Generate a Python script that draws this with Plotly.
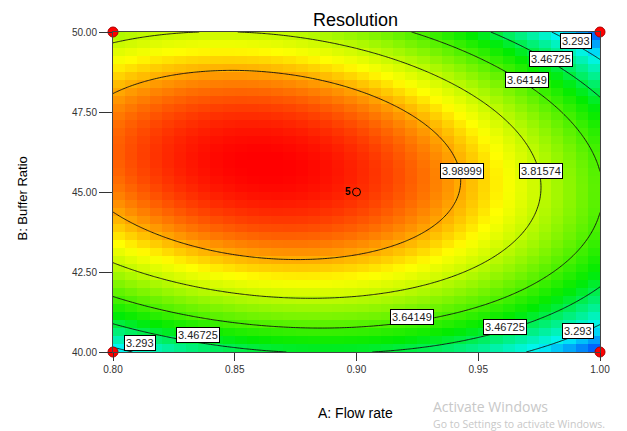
import numpy as np
import plotly.graph_objects as go

# ---- data ----
title = "Resolution"
x_title = "A: Flow rate"
y_title = "B: Buffer Ratio"
x_ticks = [0.80, 0.85, 0.90, 0.95, 1.00]
y_ticks = [40.00, 42.50, 45.00, 47.50, 50.00]
x_range = [0.80, 1.00]
y_range = [40.0, 50.0]

# fitted quadratic model in coded units (a: flow rate, b: buffer ratio)
coef_names = ["c0", "A", "B", "AB", "A2", "B2"]
coef_vals = [4.12, -0.19, 0.1275, -0.1275, -0.28, -0.52]

# contour levels shown
levels = [3.293, 3.46725, 3.64149, 3.81574, 3.98999]
z_min, z_max = 3.11875, 4.16424

# contour label positions (A, B, level)
label_A = [0.990, 0.980, 0.970, 0.9758, 0.9433, 0.9228, 0.961, 0.991, 0.835, 0.811]
label_B = [49.72, 49.16, 48.50, 45.66, 45.66, 41.09, 40.78, 40.66, 40.53, 40.28]
label_txt = ["3.293", "3.46725", "3.64149", "3.81574", "3.98999",
             "3.64149", "3.46725", "3.293", "3.46725", "3.293"]

# design points
design_A = [0.80, 0.80, 1.00, 1.00]
design_B = [40.0, 50.0, 40.0, 50.0]
center_A = [0.90]
center_B = [45.0]
center_reps = ["<b>5</b>"]

# ---- model evaluation ----
c = dict(zip(coef_names, coef_vals))

def model(A, B):
    a = (A - 0.9) / 0.1
    b = (B - 45.0) / 5.0
    return (c["c0"] + c["A"] * a + c["B"] * b + c["AB"] * a * b
            + c["A2"] * a * a + c["B2"] * b * b)

ncell = 40
xc = x_range[0] + (np.arange(ncell) + 0.5) * (x_range[1] - x_range[0]) / ncell
yc = y_range[0] + (np.arange(ncell) + 0.5) * (y_range[1] - y_range[0]) / ncell
XC, YC = np.meshgrid(xc, yc)
Zc = model(XC, YC)

xf = np.linspace(x_range[0], x_range[1], 201)
yf = np.linspace(y_range[0], y_range[1], 201)
XF, YF = np.meshgrid(xf, yf)
Zf = model(XF, YF)

colorscale = [[0.0, "rgb(0,40,255)"], [0.17, "rgb(0,245,245)"], [0.4, "rgb(0,235,0)"],
              [0.75, "rgb(255,255,0)"], [1.0, "rgb(255,0,0)"]]

fig = go.Figure()
fig.add_trace(go.Heatmap(x=xc, y=yc, z=Zc, colorscale=colorscale, zmin=z_min, zmax=z_max,
                         showscale=False, zsmooth=False, hoverinfo="skip"))
step = (levels[-1] - levels[0]) / (len(levels) - 1)
fig.add_trace(go.Contour(x=xf, y=yf, z=Zf, showscale=False,
                         contours=dict(start=levels[0], end=levels[-1] + 1e-6, size=step,
                                       coloring="none"),
                         line=dict(color="#111", width=0.9), hoverinfo="skip"))

fig.add_trace(go.Scatter(x=design_A, y=design_B, mode="markers", cliponaxis=False,
                         marker=dict(color="red", size=10, line=dict(color="#aa0000", width=1)),
                         hoverinfo="skip"))
fig.add_trace(go.Scatter(x=center_A, y=center_B, mode="markers+text", text=center_reps,
                         textposition="middle left", cliponaxis=False,
                         textfont=dict(family="Liberation Sans", size=10, color="black"),
                         marker=dict(symbol="circle-open", color="black", size=8,
                                     line=dict(color="black", width=1)),
                         hoverinfo="skip"))

for xa, yb, t in zip(label_A, label_B, label_txt):
    fig.add_annotation(x=xa, y=yb, text=t, showarrow=False, bgcolor="white",
                       bordercolor="black", borderwidth=1, borderpad=1,
                       font=dict(family="Liberation Sans", size=11, color="#222"))

fig.add_annotation(xref="paper", yref="paper", x=0.497, y=1, yshift=12, yanchor="middle",
                   text=title, showarrow=False,
                   font=dict(family="Liberation Sans", size=18, color="black"))
fig.add_annotation(xref="paper", yref="paper", x=0.497, y=0, yshift=-51, yanchor="top",
                   text=x_title, showarrow=False,
                   font=dict(family="Liberation Sans", size=14, color="black"))
fig.add_annotation(xref="paper", yref="paper", x=0, xshift=-100, y=0.478, textangle=-90,
                   text=y_title, showarrow=False,
                   font=dict(family="Liberation Sans", size=13, color="black"))
# screen watermark present in the picture
fig.add_annotation(xref="paper", yref="paper", x=0, xshift=318, xanchor="left", y=0, yshift=-43,
                   yanchor="top", text="Activate Windows", showarrow=False,
                   font=dict(family="Open Sans", size=14, color="#c8c8c8"))
fig.add_annotation(xref="paper", yref="paper", x=0, xshift=318, xanchor="left", y=0, yshift=-63,
                   yanchor="top", text="Go to Settings to activate Windows.", showarrow=False,
                   font=dict(family="Open Sans", size=10.5, color="#c8c8c8"))

# page body has an 8px default margin, so the figure is sized/offset to land the
# plot area at the reference position
fig.update_layout(width=619, height=423, margin=dict(l=105, r=27, t=24, b=79),
                  paper_bgcolor="white", plot_bgcolor="white", showlegend=False)
fig.update_xaxes(range=x_range, tickvals=x_ticks, tickformat=".2f", ticks="outside", ticklen=8,
                 tickcolor="#333", showline=True, linecolor="#444", mirror=True, showgrid=False,
                 zeroline=False, tickfont=dict(family="Liberation Sans", size=10, color="#333"))
fig.update_yaxes(range=y_range, tickvals=y_ticks, tickformat=".2f", ticks="outside", ticklen=13,
                 tickcolor="#333", showline=True, linecolor="#444", mirror=True, showgrid=False,
                 zeroline=False, tickfont=dict(family="Liberation Sans", size=10, color="#333"))

fig.write_html("out.html")
